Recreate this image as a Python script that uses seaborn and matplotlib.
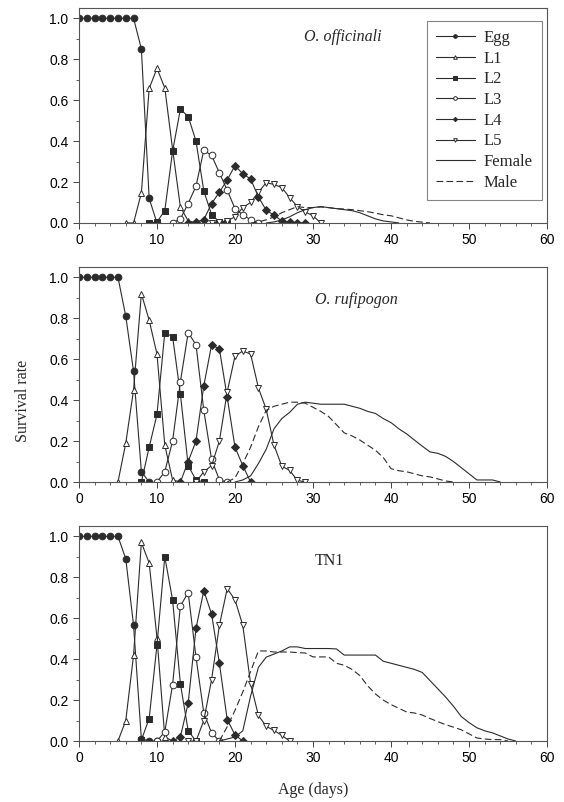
import numpy as np
import matplotlib
matplotlib.use("Agg")
import matplotlib.pyplot as plt
from matplotlib.ticker import MultipleLocator
import seaborn as sns

# ---- data (survival rate by age in days) ----
# each stage series: (first day, values on consecutive days)
oo_egg = (0, [1, 1, 1, 1, 1, 1, 1, 1, 0.85, 0.12, 0])
oo_l1 = (6, [0, 0, 0.147, 0.657, 0.755, 0.66, 0.36, 0.078, 0.01, 0])
oo_l2 = (9, [0, 0.005, 0.06, 0.35, 0.556, 0.52, 0.40, 0.157, 0.04, 0.005, 0])
oo_l3 = (12, [0, 0.02, 0.095, 0.18, 0.355, 0.33, 0.245, 0.16, 0.07, 0.04, 0.015, 0])
oo_l4 = (14, [0, 0.005, 0.016, 0.095, 0.15, 0.21, 0.28, 0.24, 0.215, 0.127, 0.062,
              0.038, 0.01, 0.005, 0.002, 0])
oo_l5 = (17, [0, 0.005, 0.01, 0.03, 0.075, 0.1, 0.15, 0.197, 0.188, 0.173, 0.124,
              0.08, 0.054, 0.035, 0])
oo_female = (24, [0, 0.005, 0.015, 0.03, 0.05, 0.065, 0.075, 0.08, 0.075, 0.07, 0.065,
                  0.06, 0.05, 0.035, 0.02, 0.01, 0.005, 0])
oo_male = (22, [0, 0.005, 0.015, 0.03, 0.05, 0.065, 0.08, 0.075, 0.075, 0.078, 0.075,
                0.07, 0.068, 0.065, 0.06, 0.055, 0.048, 0.04, 0.035, 0.025, 0.015,
                0.008, 0.004, 0])

or_egg = (0, [1, 1, 1, 1, 1, 1, 0.81, 0.54, 0.05, 0])
or_l1 = (5, [0, 0.19, 0.45, 0.92, 0.79, 0.625, 0.18, 0.01, 0])
or_l2 = (8, [0, 0.17, 0.33, 0.73, 0.71, 0.43, 0.08, 0.01, 0])
or_l3 = (10, [0, 0.05, 0.2, 0.49, 0.73, 0.67, 0.35, 0.11, 0.01, 0])
or_l4 = (13, [0, 0.1, 0.2, 0.47, 0.67, 0.65, 0.415, 0.17, 0.08, 0])
or_l5 = (15, [0, 0.05, 0.08, 0.2, 0.44, 0.615, 0.64, 0.625, 0.46, 0.355, 0.18, 0.077,
              0.057, 0.008, 0])
or_female = (20, [0, 0.01, 0.03, 0.09, 0.16, 0.26, 0.31, 0.34, 0.38, 0.39, 0.385, 0.38,
                  0.38, 0.38, 0.38, 0.37, 0.36, 0.345, 0.335, 0.31, 0.29, 0.26, 0.235,
                  0.205, 0.175, 0.147, 0.14, 0.125, 0.1, 0.07, 0.04, 0.01, 0.01, 0.01, 0])
or_male = (19, [0, 0.02, 0.09, 0.17, 0.27, 0.35, 0.37, 0.38, 0.39, 0.39, 0.385, 0.365,
                0.345, 0.32, 0.28, 0.24, 0.225, 0.205, 0.18, 0.155, 0.12, 0.065, 0.055,
                0.05, 0.04, 0.03, 0.025, 0.015, 0.005, 0])

tn_egg = (0, [1, 1, 1, 1, 1, 1, 0.89, 0.565, 0.01, 0, 0])
tn_l1 = (5, [0, 0.10, 0.42, 0.97, 0.87, 0.505, 0.02, 0])
tn_l2 = (8, [0.005, 0.11, 0.47, 0.9, 0.69, 0.28, 0.05, 0])
tn_l3 = (10, [0, 0.045, 0.275, 0.66, 0.725, 0.41, 0.137, 0.04, 0])
tn_l4 = (12, [0, 0.02, 0.185, 0.55, 0.735, 0.62, 0.38, 0.105, 0.03, 0])
tn_l5 = (14, [0, 0, 0.1, 0.30, 0.565, 0.745, 0.69, 0.565, 0.28, 0.125, 0.072, 0.052,
              0.028, 0])
tn_female = (18, [0, 0.01, 0.02, 0.05, 0.22, 0.36, 0.41, 0.425, 0.44, 0.46, 0.46, 0.452,
                  0.452, 0.452, 0.452, 0.45, 0.42, 0.42, 0.42, 0.42, 0.42, 0.39, 0.38,
                  0.37, 0.36, 0.35, 0.335, 0.295, 0.255, 0.215, 0.17, 0.12, 0.09, 0.065,
                  0.05, 0.04, 0.025, 0.01, 0])
tn_male = (18, [0, 0.07, 0.15, 0.24, 0.34, 0.44, 0.44, 0.435, 0.435, 0.435, 0.432, 0.43,
                0.411, 0.411, 0.411, 0.38, 0.37, 0.35, 0.32, 0.27, 0.23, 0.2, 0.178,
                0.16, 0.142, 0.137, 0.127, 0.11, 0.095, 0.08, 0.068, 0.055, 0.035, 0.015,
                0.01, 0.007, 0.007, 0])

panels = [
    ("O. officinali", True, [oo_egg, oo_l1, oo_l2, oo_l3, oo_l4, oo_l5, oo_female, oo_male], (33.8, 0.91)),
    ("O. rufipogon", True, [or_egg, or_l1, or_l2, or_l3, or_l4, or_l5, or_female, or_male], (35.5, 0.89)),
    ("TN1", False, [tn_egg, tn_l1, tn_l2, tn_l3, tn_l4, tn_l5, tn_female, tn_male], (32.1, 0.88)),
]

labels = ["Egg", "L1", "L2", "L3", "L4", "L5", "Female", "Male"]
# marker, filled?
styles = [("o", True), ("^", False), ("s", True), ("o", False), ("D", True), ("v", False),
          (None, None), (None, None)]

sns.set_style("ticks")
plt.rcParams["font.family"] = ["Liberation Serif", "DejaVu Serif"]

LINE = "#2b2b2b"
fig = plt.figure(figsize=(5.64, 8.02), dpi=100)
bottoms = [0.722, 0.399, 0.076]

for (title, italic, series, tpos), bottom in zip(panels, bottoms):
    ax = fig.add_axes([0.140, bottom, 0.830, 0.268])
    for (start, vals), lab, (mk, filled) in zip(series, labels, styles):
        days = np.arange(start, start + len(vals))
        if mk is None:
            sns.lineplot(x=days, y=vals, ax=ax, color=LINE, linewidth=0.8,
                         linestyle="-" if lab == "Female" else (0, (6, 3)), label=lab)
        else:
            ms = 4.0 if mk == "D" else 4.8
            sns.lineplot(x=days, y=vals, ax=ax, color=LINE, linewidth=0.8, marker=mk,
                         markersize=ms, markeredgewidth=0.7, markeredgecolor=LINE,
                         markerfacecolor=LINE if filled else "white", label=lab)
    ax.set_xlim(0, 60)
    ax.set_ylim(0, 1.05)
    ax.xaxis.set_major_locator(MultipleLocator(10))
    ax.xaxis.set_minor_locator(MultipleLocator(2))
    ax.yaxis.set_minor_locator(MultipleLocator(0.1))
    ax.set_yticks(np.arange(0, 1.01, 0.2))
    ax.set_yticklabels([f"{v:.1f}" for v in np.arange(0, 1.01, 0.2)])
    ax.tick_params(which="major", direction="out", length=4, width=0.7, colors="#444444",
                   labelsize=10, labelcolor="black")
    ax.tick_params(which="minor", direction="out", length=2.5, width=0.6, colors="#444444")
    for lab_ in ax.get_xticklabels() + ax.get_yticklabels():
        lab_.set_family(["Liberation Sans", "DejaVu Sans"])
    for sp in ax.spines.values():
        sp.set_visible(True)
        sp.set_linewidth(0.8)
        sp.set_color("#555555")
    ax.set_xlabel("")
    ax.set_ylabel("")
    ax.text(tpos[0], tpos[1], title, ha="center", va="center", fontsize=11.5,
            style="italic" if italic else "normal")
    if title == "O. officinali":
        leg = ax.legend(loc="upper right", bbox_to_anchor=(0.989, 0.94), fontsize=12,
                        frameon=True, fancybox=False, edgecolor="#666666",
                        handlelength=2.3, labelspacing=0.28, borderpad=0.55,
                        borderaxespad=0, handletextpad=0.55, markerscale=0.55)
        leg.get_frame().set_linewidth(0.8)
    else:
        ax.get_legend().remove()

fig.text(0.04, 0.5, "Survival rate", rotation=90, ha="center", va="center", fontsize=11.5)
fig.text(0.555, 0.015, "Age (days)", ha="center", va="center", fontsize=11.5)

fig.savefig("out.png", dpi=100)
